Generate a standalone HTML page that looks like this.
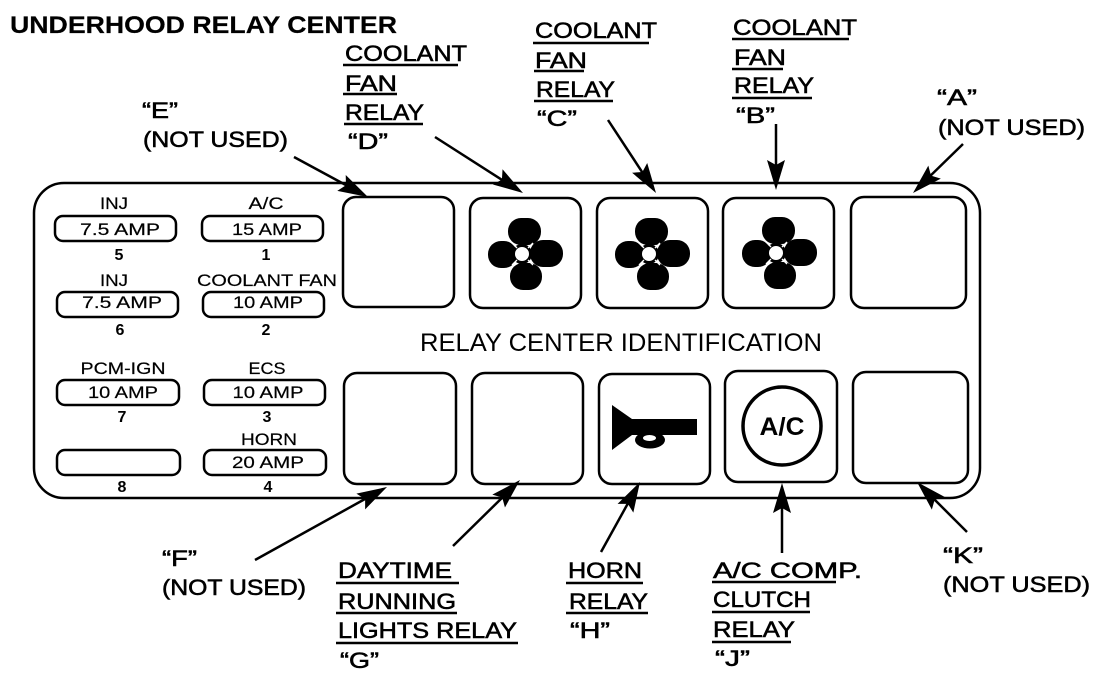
<!DOCTYPE html>
<html><head><meta charset="utf-8"><style>
html,body{margin:0;padding:0;background:#fff}
svg{display:block}
text{font-family:"Liberation Sans",sans-serif;fill:#000}
.t{font-size:24px;font-weight:bold;stroke:#000;stroke-width:.2px}
.h{font-size:22px;stroke:#000;stroke-width:.55px}
.m{font-size:17px;stroke:#000;stroke-width:.2px;text-anchor:middle}
.n{font-size:16px;font-weight:bold;text-anchor:middle}
.l{fill:none;stroke:#000;stroke-width:2.5}
.b{fill:none;stroke:#000;stroke-width:2.5}
</style></head><body>
<svg width="1120" height="676" viewBox="0 0 1120 676" xmlns="http://www.w3.org/2000/svg">
<defs>
<g id="fan">
<rect x="-14" y="-36" width="33" height="27" rx="13"/>
<rect x="8" y="-14" width="33" height="27" rx="13"/>
<rect x="-12" y="9" width="32" height="27" rx="13"/>
<rect x="-34" y="-13" width="29" height="27" rx="13"/>
<circle r="10"/>
<path d="M-5-6L-12-13M6-6L11-11M6 6L11 11M-5 6L-10 11" stroke="#fff" stroke-width="1.4" fill="none"/>
<circle r="7" fill="#fff"/>
</g>
<g id="ah"><path d="M0 0L-30-9L-25 0L-30 9Z"/></g>
</defs>

<text class="t" x="10" y="33" textLength="387" lengthAdjust="spacingAndGlyphs">UNDERHOOD RELAY CENTER</text>

<rect class="b" x="34" y="183" width="946" height="315" rx="30"/>

<!-- fuses -->
<g class="b">
<rect x="55" y="216" width="121" height="25" rx="8"/>
<rect x="202" y="216" width="121" height="25" rx="8"/>
<rect x="57" y="292" width="121" height="25" rx="8"/>
<rect x="203" y="292" width="121" height="25" rx="8"/>
<rect x="57" y="380" width="122" height="25" rx="8"/>
<rect x="204" y="380" width="121" height="25" rx="8"/>
<rect x="57" y="450" width="123" height="25" rx="8"/>
<rect x="204" y="450" width="122" height="25" rx="8"/>
</g>
<g class="m">
<text x="114" y="209" textLength="28" lengthAdjust="spacingAndGlyphs">INJ</text>
<text x="120" y="235" textLength="80" lengthAdjust="spacingAndGlyphs">7.5 AMP</text>
<text x="266" y="209" textLength="35" lengthAdjust="spacingAndGlyphs">A/C</text>
<text x="267" y="235" textLength="70" lengthAdjust="spacingAndGlyphs">15 AMP</text>
<text x="114" y="286" textLength="28" lengthAdjust="spacingAndGlyphs">INJ</text>
<text x="122" y="308" textLength="80" lengthAdjust="spacingAndGlyphs">7.5 AMP</text>
<text x="267" y="286" textLength="140" lengthAdjust="spacingAndGlyphs">COOLANT FAN</text>
<text x="268" y="308" textLength="70" lengthAdjust="spacingAndGlyphs">10 AMP</text>
<text x="123" y="374" textLength="85" lengthAdjust="spacingAndGlyphs">PCM-IGN</text>
<text x="123" y="398" textLength="70" lengthAdjust="spacingAndGlyphs">10 AMP</text>
<text x="267" y="374" textLength="37" lengthAdjust="spacingAndGlyphs">ECS</text>
<text x="268" y="398" textLength="71" lengthAdjust="spacingAndGlyphs">10 AMP</text>
<text x="269" y="445" textLength="56" lengthAdjust="spacingAndGlyphs">HORN</text>
<text x="268" y="468" textLength="72" lengthAdjust="spacingAndGlyphs">20 AMP</text>
</g>
<g class="n">
<text x="119" y="260">5</text>
<text x="266" y="260">1</text>
<text x="120" y="335">6</text>
<text x="266" y="335">2</text>
<text x="122" y="422">7</text>
<text x="267" y="422">3</text>
<text x="122" y="492">8</text>
<text x="268" y="492">4</text>
</g>

<!-- relays -->
<g class="b">
<rect x="343" y="197" width="111" height="110" rx="13"/>
<rect x="470" y="198" width="111" height="110" rx="13"/>
<rect x="597" y="198" width="111" height="110" rx="13"/>
<rect x="723" y="198" width="111" height="110" rx="13"/>
<rect x="851" y="197" width="115" height="111" rx="13"/>
<rect x="344" y="373" width="112" height="111" rx="13"/>
<rect x="472" y="373" width="111" height="111" rx="13"/>
<rect x="599" y="374" width="111" height="110" rx="13"/>
<rect x="725" y="371" width="112" height="111" rx="13"/>
<rect x="853" y="372" width="115" height="111" rx="13"/>
</g>

<use href="#fan" x="522" y="254"/>
<use href="#fan" x="649" y="254"/>
<use href="#fan" x="776" y="253"/>

<text x="420" y="351" font-size="25" textLength="402" lengthAdjust="spacingAndGlyphs">RELAY CENTER IDENTIFICATION</text>

<!-- horn -->
<path d="M612 405L632 419H697V435H632L612 450Z"/>
<ellipse cx="650" cy="440" rx="15" ry="8.5"/>
<ellipse cx="649.5" cy="438" rx="6.5" ry="3" fill="#fff"/>
<!-- a/c -->
<circle cx="782" cy="426" r="39" fill="none" stroke="#000" stroke-width="3.5"/>
<text x="782" y="435" text-anchor="middle" font-size="25" font-weight="bold" textLength="45" lengthAdjust="spacingAndGlyphs">A/C</text>

<!-- labels -->
<g class="h">
<text x="345" y="61" textLength="122" lengthAdjust="spacingAndGlyphs">COOLANT</text>
<text x="345" y="91" textLength="52" lengthAdjust="spacingAndGlyphs">FAN</text>
<text x="345" y="120" textLength="79" lengthAdjust="spacingAndGlyphs">RELAY</text>
<text x="348" y="149" textLength="40" lengthAdjust="spacingAndGlyphs">“D”</text>
<text x="535" y="38" textLength="122" lengthAdjust="spacingAndGlyphs">COOLANT</text>
<text x="535" y="68" textLength="52" lengthAdjust="spacingAndGlyphs">FAN</text>
<text x="536" y="97" textLength="79" lengthAdjust="spacingAndGlyphs">RELAY</text>
<text x="537" y="126" textLength="40" lengthAdjust="spacingAndGlyphs">“C”</text>
<text x="733" y="35" textLength="124" lengthAdjust="spacingAndGlyphs">COOLANT</text>
<text x="734" y="65" textLength="52" lengthAdjust="spacingAndGlyphs">FAN</text>
<text x="734" y="93" textLength="80" lengthAdjust="spacingAndGlyphs">RELAY</text>
<text x="736" y="123" textLength="39" lengthAdjust="spacingAndGlyphs">“B”</text>
<text x="142" y="118" textLength="36" lengthAdjust="spacingAndGlyphs">“E”</text>
<text x="143" y="147" textLength="145" lengthAdjust="spacingAndGlyphs">(NOT USED)</text>
<text x="937" y="105" textLength="40" lengthAdjust="spacingAndGlyphs">“A”</text>
<text x="938" y="135" textLength="147" lengthAdjust="spacingAndGlyphs">(NOT USED)</text>
<text x="162" y="566" textLength="35" lengthAdjust="spacingAndGlyphs">“F”</text>
<text x="162" y="595" textLength="144" lengthAdjust="spacingAndGlyphs">(NOT USED)</text>
<text x="338" y="578" textLength="114" lengthAdjust="spacingAndGlyphs">DAYTIME</text>
<text x="338" y="609" textLength="118" lengthAdjust="spacingAndGlyphs">RUNNING</text>
<text x="338" y="638" textLength="179" lengthAdjust="spacingAndGlyphs">LIGHTS RELAY</text>
<text x="340" y="668" textLength="39" lengthAdjust="spacingAndGlyphs">“G”</text>
<text x="568" y="578" textLength="74" lengthAdjust="spacingAndGlyphs">HORN</text>
<text x="569" y="609" textLength="79" lengthAdjust="spacingAndGlyphs">RELAY</text>
<text x="570" y="638" textLength="40" lengthAdjust="spacingAndGlyphs">“H”</text>
<text x="713" y="578" textLength="149" lengthAdjust="spacingAndGlyphs">A/C COMP.</text>
<text x="713" y="607" textLength="98" lengthAdjust="spacingAndGlyphs">CLUTCH</text>
<text x="713" y="637" textLength="82" lengthAdjust="spacingAndGlyphs">RELAY</text>
<text x="715" y="666" textLength="35" lengthAdjust="spacingAndGlyphs">“J”</text>
<text x="943" y="563" textLength="40" lengthAdjust="spacingAndGlyphs">“K”</text>
<text x="943" y="592" textLength="147" lengthAdjust="spacingAndGlyphs">(NOT USED)</text>
</g>

<!-- underlines -->
<g class="l">
<path d="M343 65H458M343 94H397M344 124H423"/>
<path d="M533 43H649M534 71H584M534 101H613"/>
<path d="M732 39H849M732 69H783M732 98H812"/>
<path d="M336 583H459M336 613H457M336 643H518"/>
<path d="M566 583H643M566 613H648"/>
<path d="M712 582H836M712 612H810M712 642H791"/>
</g>

<!-- arrows -->
<g class="l">
<path d="M294 157L355 190"/>
<path d="M435 137L510 185"/>
<path d="M608 120L648 181"/>
<path d="M776 124V180"/>
<path d="M963 144L924 182"/>
<path d="M255 560L374 494"/>
<path d="M453 546L509 491"/>
<path d="M601 552L632 496"/>
<path d="M782 553V495"/>
<path d="M967 532L928 493"/>
</g>
<use href="#ah" transform="translate(368,197) rotate(28)"/>
<use href="#ah" transform="translate(523,193) rotate(32.5)"/>
<use href="#ah" transform="translate(656,193) rotate(57)"/>
<use href="#ah" transform="translate(776,190) rotate(90)"/>
<use href="#ah" transform="translate(913,193) rotate(136)"/>
<use href="#ah" transform="translate(387,487) rotate(-29)"/>
<use href="#ah" transform="translate(520,480) rotate(-44.6)"/>
<use href="#ah" transform="translate(640,482) rotate(-61)"/>
<use href="#ah" transform="translate(782,483) rotate(-90)"/>
<use href="#ah" transform="translate(917,482) rotate(-135)"/>
</svg>
</body></html>
